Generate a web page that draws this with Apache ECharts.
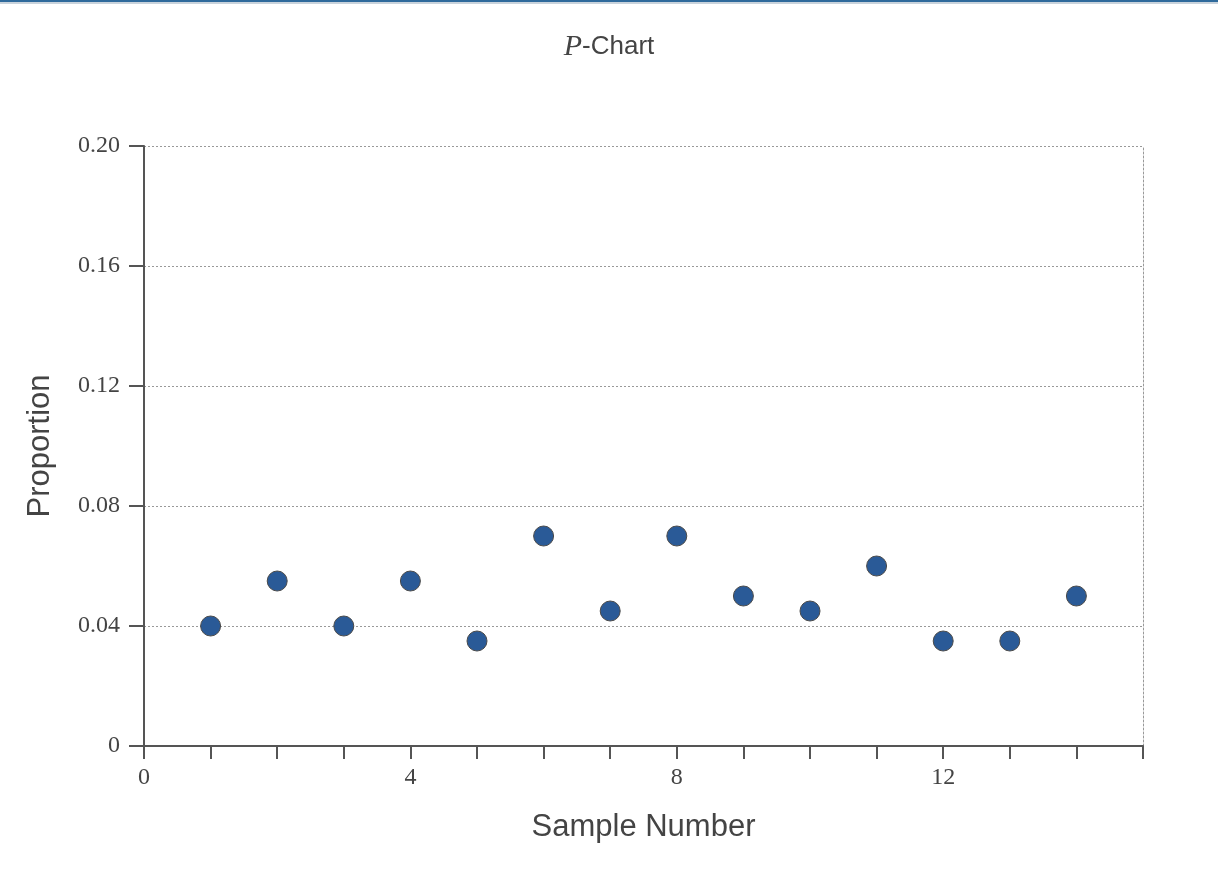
<!DOCTYPE html>
<html>
<head>
<meta charset="utf-8">
<script src="https://cdn.jsdelivr.net/npm/echarts@6/dist/echarts.min.js"></script>
<style>
html,body{margin:0;padding:0;background:#fff;}
#c{width:1218px;height:888px;}
</style>
</head>
<body>
<div id="c"></div>
<script>
const sampleNumbers = [1,2,3,4,5,6,7,8,9,10,11,12,13,14];
const proportions = [0.04,0.055,0.04,0.055,0.035,0.07,0.045,0.07,0.05,0.045,0.06,0.035,0.035,0.05];
const xLabeled = [0,4,8,12];
const yTicks = [0,0.04,0.08,0.12,0.16,0.20];

const chart = echarts.init(document.getElementById('c'));
const serif = '"Liberation Serif","DejaVu Serif",serif';
const sans = '"Liberation Sans",Arial,sans-serif';
chart.setOption({
  animation:false,
  title:{
    text:'{i|P}{n|-Chart}',
    left:'center', top:27,
    textStyle:{fontWeight:'normal',rich:{
      i:{fontFamily:serif,fontStyle:'italic',fontWeight:'normal',fontSize:30,color:'#444'},
      n:{fontFamily:sans,fontWeight:'normal',fontSize:26,color:'#444'}
    }}
  },
  graphic:[
    {type:'rect',shape:{x:0,y:0,width:1218,height:2},style:{fill:'#2f6a9c'},silent:true},
    {type:'rect',shape:{x:0,y:2,width:1218,height:2},style:{fill:'#c9d3dc'},silent:true}
  ],
  grid:{left:144,right:75,top:146,bottom:142},
  xAxis:{
    type:'value',min:0,max:15,interval:1,
    name:'Sample Number',nameLocation:'middle',nameGap:66,
    nameTextStyle:{fontFamily:sans,fontSize:31,color:'#444'},
    axisLine:{lineStyle:{color:'#555',width:2}},
    axisTick:{length:13,lineStyle:{color:'#555',width:2}},
    axisLabel:{fontFamily:serif,fontSize:24,color:'#444',margin:20,
      formatter:v=>xLabeled.includes(v)?String(v):''},
    splitLine:{show:false}
  },
  yAxis:[{
    type:'value',min:0,max:0.2,interval:0.04,
    name:'Proportion',nameLocation:'middle',nameGap:88,
    nameTextStyle:{fontFamily:sans,fontSize:31,color:'#444'},
    axisLine:{show:true,lineStyle:{color:'#555',width:2}},
    axisTick:{show:true,length:15,lineStyle:{color:'#555',width:2}},
    axisLabel:{fontFamily:serif,fontSize:24,color:'#444',margin:24,
      formatter:v=>{const t=yTicks.find(x=>Math.abs(x-v)<1e-9);return t===0?'0':t.toFixed(2);}},
    splitLine:{show:true,lineStyle:{color:'#999',type:[2,2],width:1}}
  },{
    type:'value',min:0,max:0.2,interval:0.04,position:'right',
    axisLine:{show:true,lineStyle:{color:'#999',type:[2,2],width:1}},
    axisTick:{show:false},axisLabel:{show:false},splitLine:{show:false}
  }],
  series:[{
    type:'scatter',
    data:sampleNumbers.map((x,i)=>[x,proportions[i]]),
    symbolSize:20,
    itemStyle:{color:'#2a5a97',borderColor:'#4a4a4a',borderWidth:1,opacity:1}
  }]
});
</script>
</body>
</html>
